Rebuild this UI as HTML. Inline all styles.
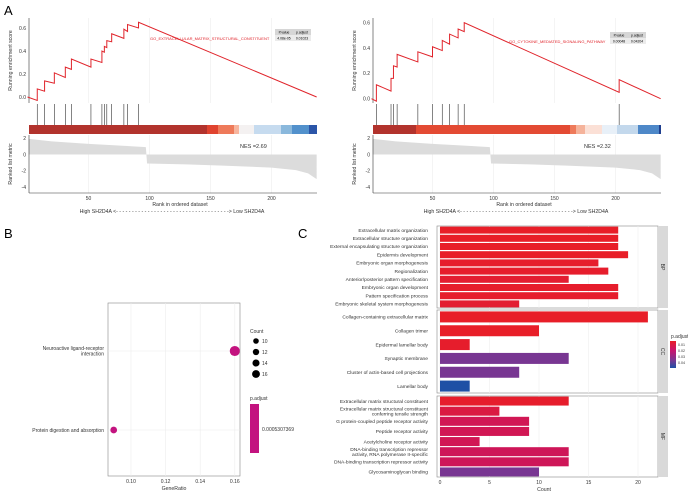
<!DOCTYPE html>
<html><head><meta charset="utf-8"><style>
html,body{margin:0;padding:0;background:#fff;}
svg{display:block;font-family:"Liberation Sans",sans-serif;}
</style></head><body>
<svg id="fig" width="688" height="496" viewBox="0 0 688 496" xmlns="http://www.w3.org/2000/svg">
<text x="4" y="15" font-size="13">A</text>
<text x="4" y="238" font-size="13">B</text>
<text x="298" y="238" font-size="13">C</text>
<g id="gseaL"></g>
<g id="gseaR"></g>
<g id="dotB"></g>
<g id="barC"></g>
</svg>
<script>
// ---- GSEA data ----
const esRanksL = [0,8,8,14,14,22,22,31,31,36,36,52,52,61,61,63,63,65,65,69,69,79,79,82,82,91,91,237];
const esScoresL = [0,-0.03,0.07,0.05,0.14,0.12,0.21,0.17,0.26,0.24,0.33,0.26,0.33,0.30,0.40,0.39,0.44,0.43,0.49,0.48,0.55,0.51,0.59,0.57,0.63,0.60,0.65,0.0];
const hitsL = [8,14,22,31,36,52,61,63,65,69,79,82,91];
const esRanksR = [0,4,4,16,16,18,18,21,21,38,38,50,50,58,58,64,64,71,71,76,76,203,203,237];
const esScoresR = [0,-0.02,0.11,0.06,0.16,0.16,0.26,0.25,0.35,0.29,0.37,0.33,0.41,0.38,0.46,0.43,0.51,0.48,0.55,0.53,0.60,0.05,0.15,0.0];
const hitsR = [4,16,18,21,38,50,58,64,71,76,203];
const metricRanks = [1,20,50,80,97,98,130,160,200,220,230,237];
const metricValues = [1.9,1.6,1.3,1.05,0.9,-1.1,-1.2,-1.35,-1.6,-1.9,-2.3,-3.0];
const xTicksGsea = [50,100,150,200];
const esTicks = [0.0,0.2,0.4,0.6];
const metricTicks = [2,0,-2,-4];
const NS="http://www.w3.org/2000/svg";
function el(p,tag,attrs,txt){const e=document.createElementNS(NS,tag);for(const k in attrs)e.setAttribute(k,attrs[k]);if(txt!==undefined)e.textContent=txt;p.appendChild(e);return e;}

function gsea(gid,ox,esR,esS,hits,y0,y6,term,termX,termY,tabX,tabY,pv,pa,nes,bands){
  const g=document.getElementById(gid);
  const x=r=>ox+27.5+r*1.22;
  const ys=s=>y0-(y0-y6)*s/0.6;
  const ym=v=>154.5-v*8.2;
  const L=ox+29,R=ox+317;
  // grid
  xTicksGsea.forEach(t=>{[[18,103],[135,193]].forEach(([a,b])=>{const l=el(g,'line',{x1:x(t),x2:x(t),y1:a,y2:b,stroke:'#ececec','stroke-width':0.6});});});
  // es axis
  el(g,'line',{x1:L,x2:L,y1:18,y2:103,stroke:'#333','stroke-width':0.6});
  esTicks.forEach(t=>{const tx=el(g,'text',{x:L-3,y:ys(t)+1.8,'font-size':5,'text-anchor':'end',fill:'#333'},t.toFixed(1));});
  const yl=el(g,'text',{x:0,y:0,'font-size':5.2,'text-anchor':'middle',fill:'#333',transform:`translate(${L-17},${(18+103)/2}) rotate(-90)`},'Running enrichment score');
  
  const pts=esR.map((r,i)=>x(r)+','+ys(esS[i])).join(' ');
  const pl=el(g,'polyline',{points:pts,fill:'none',stroke:'#e0242b','stroke-width':1});
  
  hits.forEach(h=>{const l=el(g,'line',{x1:x(h),x2:x(h),y1:104,y2:125,stroke:'#333','stroke-width':0.6});});
  // color bands
  bands.forEach(b=>{const r=el(g,'rect',{x:ox+b[0],y:125,width:b[1]-b[0],height:9,fill:b[2]});});
  // metric
  let mp=`${x(metricRanks[0])},${ym(0)} `+metricRanks.map((r,i)=>x(r)+','+ym(metricValues[i])).join(' ')+` ${x(metricRanks[metricRanks.length-1])},${ym(0)}`;
  const ma=el(g,'polygon',{points:mp,fill:'#dcdcdc'});
  
  el(g,'line',{x1:L,x2:L,y1:135,y2:193,stroke:'#333','stroke-width':0.6});
  el(g,'line',{x1:L,x2:R,y1:193,y2:193,stroke:'#333','stroke-width':0.6});
  metricTicks.forEach(t=>{const tx=el(g,'text',{x:L-3,y:ym(t)+1.8,'font-size':5,'text-anchor':'end',fill:'#333'},t);});
  const ml=el(g,'text',{x:0,y:0,'font-size':5.2,'text-anchor':'middle',fill:'#333',transform:`translate(${L-17},164) rotate(-90)`},'Ranked list metric');
  
  xTicksGsea.forEach(t=>{const tx=el(g,'text',{x:x(t),y:200,'font-size':5,'text-anchor':'middle',fill:'#333'},t);});
  const xt=el(g,'text',{x:ox+180,y:206,'font-size':5.2,'text-anchor':'middle',fill:'#333'},'Rank in ordered dataset');
  
  const hl=el(g,'text',{x:ox+172,y:213,'font-size':5.2,'text-anchor':'middle',fill:'#333'},'High SH2D4A <- - - - - - - - - - - - - - - - - - - - - - - - - - - - - - - - - - - -> Low SH2D4A');
  
  const nt=el(g,'text',{x:ox+240,y:148,'font-size':5.5,fill:'#333'},'NES ='+nes);
  
  const tt=el(g,'text',{x:termX,y:termY,'font-size':4,fill:'#e0242b'},term);
  
  el(g,'rect',{x:tabX,y:tabY,width:36,height:6,fill:'#d6d6d6'});
  el(g,'rect',{x:tabX,y:tabY+6,width:36,height:6,fill:'#ebebeb'});
  el(g,'text',{x:tabX+9,y:tabY+4.4,'font-size':3.4,'text-anchor':'middle'},'P.value');
  el(g,'text',{x:tabX+27,y:tabY+4.4,'font-size':3.4,'text-anchor':'middle'},'p.adjust');
  el(g,'text',{x:tabX+9,y:tabY+10.4,'font-size':3.4,'text-anchor':'middle'},pv);
  el(g,'text',{x:tabX+27,y:tabY+10.4,'font-size':3.4,'text-anchor':'middle'},pa);
}
gsea('gseaL',0,esRanksL,esScoresL,hitsL,97,28,'GO_EXTRACELLULAR_MATRIX_STRUCTURAL_CONSTITUENT',150,40,275,29,'4.08e-05','0.01023','2.69',
 [[29,207,'#b2332d'],[207,218,'#e0432f'],[218,234,'#ee7a5a'],[234,239,'#f7b59e'],[239,254,'#f4f1f1'],[254,281,'#c6dbef'],[281,292,'#8ab8dc'],[292,309,'#5291cc'],[309,317,'#2b55a8']]);
gsea('gseaR',344,esRanksR,esScoresR,hitsR,98.7,22.7,'GO_CYTOKINE_MEDIATED_SIGNALING_PATHWAY',509,43,610,32,'0.00048','0.04204','2.32',
 [[29,72,'#b2332d'],[72,226,'#e34a33'],[226,232,'#ee7a5a'],[232,241,'#f5b39b'],[241,258,'#fbe0d6'],[258,273,'#e8f0f8'],[273,294,'#c3d8ec'],[294,315,'#4e88c8'],[315,317,'#1f3f8f']]);

// ---- Panel B data ----
const keggTerms = ['Neuroactive ligand-receptor\ninteraction','Protein digestion and absorption'];
const keggRatio = [0.16,0.09];
const keggCount = [16,9];
const countLegend = [10,12,14,16];
const ratioTicks = [0.10,0.12,0.14,0.16];
(function(){
  const g=document.getElementById('dotB');
  const x=v=>131+(v-0.10)*1730;
  const yc=[351,430];
  const r=c=>1.2+c*0.24;
  el(g,'rect',{x:108,y:303,width:132,height:173,fill:'#fff',stroke:'#888','stroke-width':0.6});
  ratioTicks.forEach(t=>{const l=el(g,'line',{x1:x(t),x2:x(t),y1:303,y2:476,stroke:'#ececec','stroke-width':0.6});
    const tx=el(g,'text',{x:x(t),y:483,'font-size':5,'text-anchor':'middle',fill:'#333'},t.toFixed(2));});
  keggTerms.forEach((t,i)=>{
    el(g,'line',{x1:108,x2:240,y1:yc[i],y2:yc[i],stroke:'#ececec','stroke-width':0.6});
    const lines=t.split('\n');
    lines.forEach((ln,j)=>{const tx=el(g,'text',{x:104,y:yc[i]+1.8+(j-(lines.length-1)/2)*5.5,'font-size':5,'text-anchor':'end',fill:'#333'},ln);});
    const c=el(g,'circle',{cx:x(keggRatio[i]),cy:yc[i],r:r(keggCount[i]),fill:'#c3137f'});
    
  });
  const xl=el(g,'text',{x:174,y:490,'font-size':5.2,'text-anchor':'middle',fill:'#333'},'GeneRatio');
  el(g,'text',{x:250,y:333,'font-size':5,fill:'#333'},'Count');
  countLegend.forEach((c,i)=>{const cc=el(g,'circle',{cx:256,cy:341+i*11,r:r(c)*0.78,fill:'#000'});
    el(g,'text',{x:262,y:343+i*11,'font-size':5,fill:'#333'},c);});
  el(g,'text',{x:250,y:400,'font-size':5,fill:'#333'},'p.adjust');
  const cb=el(g,'rect',{x:250,y:404,width:9,height:49,fill:'#c3137f'});
  el(g,'text',{x:262,y:431,'font-size':5,fill:'#333'},'0.0005307369');
})();

// ---- Panel C data ----
const bpTerms = ['Extracellular matrix organization','Extracellular structure organization','External encapsulating structure organization','Epidermis development','Embryonic organ morphogenesis','Regionalization','Anterior/posterior pattern specification','Embryonic organ development','Pattern specification process','Embryonic skeletal system morphogenesis'];
const bpCounts = [18,18,18,19,16,17,13,18,18,8];
const bpPadj = [0.004,0.004,0.004,0.004,0.005,0.005,0.006,0.005,0.005,0.006];
const ccTerms = ['Collagen-containing extracellular matrix','Collagen trimer','Epidermal lamellar body','Synaptic membrane','Cluster of actin-based cell projections','Lamellar body'];
const ccCounts = [21,10,3,13,8,3];
const ccPadj = [0.004,0.004,0.005,0.032,0.032,0.045];
const mfTerms = ['Extracellular matrix structural constituent','Extracellular matrix structural constituent\nconferring tensile strength','G protein-coupled peptide receptor activity','Peptide receptor activity','Acetylcholine receptor activity','DNA-binding transcription repressor\nactivity, RNA polymerase II-specific','DNA-binding transcription repressor activity','Glycosaminoglycan binding'];
const mfCounts = [13,6,9,9,4,13,13,10];
const mfPadj = [0.005,0.010,0.014,0.014,0.014,0.015,0.015,0.032];
const countTicks = [0,5,10,15,20];
(function(){
  const g=document.getElementById('barC');
  const x=v=>440+v*9.9;
  function col(p){const t=Math.max(0,Math.min(1,(p-0.004)/0.041));
    const stops=[[232,30,40],[200,20,100],[125,53,145],[30,80,165]];
    const s=t*3,i=Math.min(2,Math.floor(s)),f=s-i;
    const c=stops[i].map((v,k)=>Math.round(v+(stops[i+1][k]-v)*f));return `rgb(${c})`;}
  const facets=[
    {n:'BP',top:226,bot:308,terms:bpTerms,counts:bpCounts,padj:bpPadj,h:7},
    {n:'CC',top:310,bot:393,terms:ccTerms,counts:ccCounts,padj:ccPadj,h:11},
    {n:'MF',top:396,bot:477,terms:mfTerms,counts:mfCounts,padj:mfPadj,h:9}];
  facets.forEach(F=>{
    el(g,'rect',{x:437,y:F.top,width:221,height:F.bot-F.top,fill:'#fff',stroke:'#888','stroke-width':0.6});
    countTicks.forEach(t=>el(g,'line',{x1:x(t),x2:x(t),y1:F.top,y2:F.bot,stroke:'#eeeeee','stroke-width':0.6}));
    const st=el(g,'rect',{x:658,y:F.top,width:10,height:F.bot-F.top,fill:'#d9d9d9'});
    const sl=el(g,'text',{x:0,y:0,'font-size':5,'text-anchor':'middle',fill:'#333',transform:`translate(661,${(F.top+F.bot)/2}) rotate(90)`},F.n);
    const n=F.terms.length,step=(F.bot-F.top)/n;
    F.terms.forEach((t,i)=>{
      const yc=F.top+step*(i+0.5);
      const b=el(g,'rect',{x:x(0),y:yc-F.h/2,width:x(F.counts[i])-x(0),height:F.h,fill:col(F.padj[i])});
      
      const lines=t.split('\n');
      lines.forEach((ln,j)=>{const tx=el(g,'text',{x:428,y:yc+1.7+(j-(lines.length-1)/2)*4.8,'font-size':4.9,'text-anchor':'end',fill:'#333'},ln);});
    });
  });
  countTicks.forEach(t=>{const tx=el(g,'text',{x:x(t),y:484,'font-size':5,'text-anchor':'middle',fill:'#333'},t);});
  const xl=el(g,'text',{x:544,y:491,'font-size':5.2,'text-anchor':'middle',fill:'#333'},'Count');
  el(g,'text',{x:671,y:338,'font-size':5,fill:'#333'},'p.adjust');
  const defs=el(g,'defs',{});const lg=el(defs,'linearGradient',{id:'pg',x1:0,y1:0,x2:0,y2:1});
  [['0','#e81e28'],['0.35','#c8146e'],['0.7','#7d3591'],['1','#1e50a5']].forEach(s=>el(lg,'stop',{offset:s[0],'stop-color':s[1]}));
  const cb=el(g,'rect',{x:670,y:341,width:6,height:27,fill:'url(#pg)'});
  ['0.01','0.02','0.03','0.04'].forEach((t,i)=>el(g,'text',{x:678,y:346+i*6,'font-size':3.6,fill:'#333'},t));
})();
</script>
</body></html>
